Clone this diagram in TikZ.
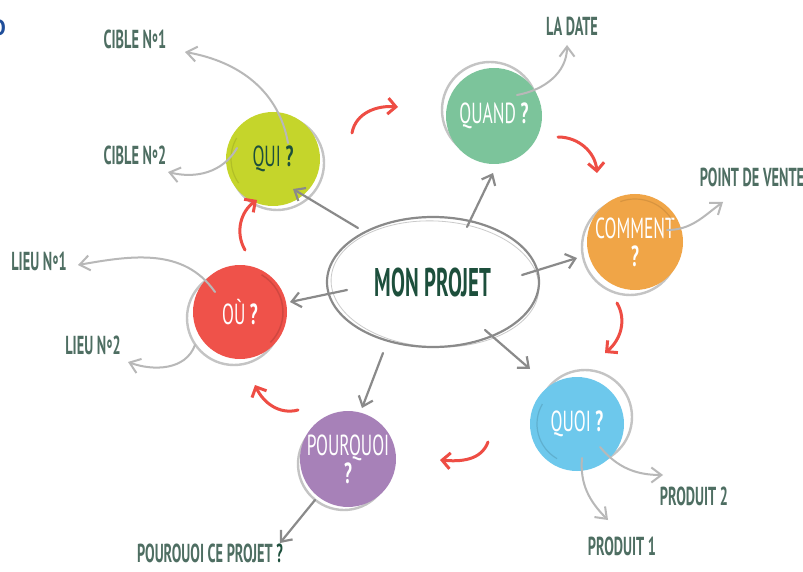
\documentclass[tikz,border=0pt]{standalone}
\usepackage{fontspec}
\setmainfont{PT Sans}
\newfontfamily\labfont[FakeStretch=0.55]{PT Sans}
\newfontfamily\bigfont[FakeStretch=0.52]{PT Sans}
\newfontfamily\bubfont[FakeStretch=0.6]{PT Sans}
\usetikzlibrary{arrows.meta,calc,shapes.geometric}
\definecolor{labc}{HTML}{4E6E62}
\definecolor{darkc}{HTML}{1D4F3C}
\definecolor{quic}{HTML}{C5D52B}
\definecolor{quandc}{HTML}{7CC49B}
\definecolor{commentc}{HTML}{F0A547}
\definecolor{quoic}{HTML}{6DC8EC}
\definecolor{pqc}{HTML}{A781B8}
\definecolor{ouc}{HTML}{EF524A}
\definecolor{ringc}{HTML}{C4C4C4}
\definecolor{connc}{HTML}{8A8A8A}
\definecolor{subc}{HTML}{B8B8B8}
\definecolor{flowc}{HTML}{EE4D44}
\definecolor{bluec}{HTML}{1F4E9A}
\begin{document}
\begin{tikzpicture}[x=1pt,y=-1pt,
  lab/.style={font=\labfont\bfseries\fontsize{26}{28}\selectfont, text=labc, inner sep=0pt},
  bubble/.style={circle, minimum size=96pt, inner sep=0pt, align=center,
     font=\bubfont\fontsize{29}{30}\selectfont, text=white},
  ring/.style={draw=ringc, line width=2.4pt},
  conn/.style={draw=connc, line width=2.2pt, line cap=round, -{Straight Barb[length=9pt,width=15pt]}},
  sub/.style={draw=subc, line width=2pt, line cap=round, -{Straight Barb[length=10pt,width=15pt]}},
  flow/.style={draw=flowc, line width=3pt, line cap=round, -{Straight Barb[length=8pt,width=16pt]}}
]
\fill[white] (0,0) rectangle (803,572);
\useasboundingbox (0,0) rectangle (803,572);

% partial blue letter at the left edge
\node[anchor=east, inner sep=0pt, text=bluec, font=\bfseries\fontsize{22}{24}\selectfont] (blue) at (6,28) {O};

% shadow rings
\draw[ring] (277,163) circle[radius=47pt];
\draw[ring] (490,110) circle[radius=48pt];
\draw[ring] (630,247) circle[radius=48pt];
\draw[ring] (585,417) circle[radius=47pt];
\draw[ring] (344,464) circle[radius=46pt];
\draw[ring] (234,318) circle[radius=47pt];

% bubbles
\node[bubble, fill=quic, text=darkc, minimum size=94pt] (qui) at (273,159) {QUI \textbf{?}};
\node[bubble, fill=quandc] (quand) at (494,116) {QUAND \textbf{?}};
\node[bubble, fill=commentc] (comment) at (635,242) {COMMENT\\[-2pt]\textbf{?}};
\node[bubble, fill=quoic, minimum size=94pt] (quoi) at (577,424) {QUOI \textbf{?}};
\node[bubble, fill=pqc, minimum size=92pt] (pq) at (348,459) {POURQUOI\\[-2pt]\textbf{?}};
\node[bubble, fill=ouc, minimum size=94pt] (ou) at (240,312) {OÙ \textbf{?}};

% darker hand-drawn arcs on the bubbles
\draw[ouc!75!black, line width=1.5pt, opacity=.5] (240,312) ++(60:43pt) arc[start angle=60, end angle=-45, radius=43pt];
\draw[quic!75!black, line width=1.2pt, opacity=.4] (273,159) ++(150:42pt) arc[start angle=150, end angle=215, radius=42pt];
\draw[quoic!70!black, line width=1.2pt, opacity=.4] (577,424) ++(150:40pt) arc[start angle=150, end angle=240, radius=40pt];
\draw[commentc!75!black, line width=1.2pt, opacity=.4] (635,242) ++(110:43pt) arc[start angle=110, end angle=30, radius=43pt];

% central ellipse
\node[ellipse, draw=connc, line width=2.2pt, minimum width=212pt, minimum height=130pt,
      text=darkc, font=\bigfont\bfseries\fontsize{40}{42}\selectfont] (proj) at (433,282) {MON PROJET};
\draw[connc, line width=0.8pt, opacity=.45, rotate around={-3:(435,284)}] (435,284) ellipse[x radius=104pt, y radius=63pt];

% labels
\node[lab] (cible1) at (135,41) {CIBLE N\raisebox{-0.3ex}{°}1};
\node[lab] (cible2) at (135,157) {CIBLE N\raisebox{-0.3ex}{°}2};
\node[lab] (ladate) at (572,26) {LA DATE};
\node[lab] (pdv) at (752,177) {POINT DE VENTE};
\node[lab] (lieu1) at (39,263) {LIEU N\raisebox{-0.3ex}{°}1};
\node[lab] (lieu2) at (93,347) {LIEU N\raisebox{-0.3ex}{°}2};
\node[lab] (produit2) at (694,496) {PRODUIT 2};
\node[lab] (produit1) at (622,546) {PRODUIT 1};
\node[lab, anchor=base] (pql) at (210,562) {POUROUOI CE PROJET \textcolor{darkc}{?}};

% arrows from the project to the questions
\draw[conn] ([shift={(-75,-54)}]proj.center) -- ([shift={(20,30)}]qui.center);
\draw[conn] ([shift={(34,-55)}]proj.center) -- ([shift={(-1,57)}]quand.center);
\draw[conn] ([shift={(89,-7)}]proj.center) -- ([shift={(-58,16)}]comment.center);
\draw[conn] ([shift={(52,48)}]proj.center) -- ([shift={(-47,-55)}]quoi.center);
\draw[conn] ([shift={(-50,71)}]proj.center) -- ([shift={(14,-51)}]pq.center);
\draw[conn] ([shift={(-86,8)}]proj.center) -- ([shift={(50,-10)}]ou.center);

% arrows from the questions to the answers
\draw[sub] ([shift={(15,-16)}]qui.center) to[out=100,in=-10] ([shift={(50,11)}]cible1.center);
\draw[sub] ([shift={(-36,-11)}]qui.center) to[out=-120,in=-14] ([shift={(33,15)}]cible2.center);
\draw[sub] ([shift={(23,-21)}]quand.center) to[out=10,in=-90] ([shift={(-5,19)}]ladate.center);
\draw[sub] ([shift={(32,-12)}]comment.center) to[out=0,in=-144] ([shift={(-29,25)}]pdv.center);
\draw[sub] ([shift={(-25,-20)}]ou.center) to[out=125,in=10] ([shift={(39,2)}]lieu1.center);
\draw[sub] ([shift={(-45,33)}]ou.center) to[out=-110,in=-20] ([shift={(35,15)}]lieu2.center);
\draw[sub] ([shift={(5,34)}]quoi.center) to[out=-95,in=135] ([shift={(-14,-26)}]produit1.center);
\draw[sub] ([shift={(23,23)}]quoi.center) to[out=-50,in=180] ([shift={(-31,-21)}]produit2.center);
\draw[conn] ([shift={(-33,41)}]pq.center) -- ([shift={(70,-19)}]pql.base);

% red cycle
\draw[flow] ([shift={(79,-26)}]qui.center) to[out=80,in=175] ([shift={(-96,-9)}]quand.center);
\draw[flow] ([shift={(64,21)}]quand.center) to[out=0,in=95] ([shift={(-38,-69)}]comment.center);
\draw[flow] ([shift={(-18,61)}]comment.center) to[out=-60,in=40] ([shift={(28,-71)}]quoi.center);
\draw[flow] ([shift={(-89,18)}]quoi.center) to[out=-110,in=-5] ([shift={(92,1)}]pq.center);
\draw[flow] ([shift={(-50,-49)}]pq.center) to[out=195,in=-65] ([shift={(15,73)}]ou.center);
\draw[flow] ([shift={(5,-62)}]ou.center) to[out=120,in=-145] ([shift={(-16,41)}]qui.center);
\end{tikzpicture}
\end{document}
